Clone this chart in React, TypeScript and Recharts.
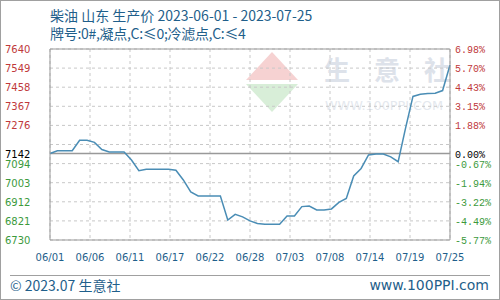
import { LineChart, Line, XAxis, YAxis, CartesianGrid, ReferenceLine } from 'recharts'

// daily ex-factory price, 06/01 .. 07/25
const prices = [
  7142, 7155, 7155, 7155, 7205, 7205, 7195, 7161, 7149, 7149,
  7149, 7111, 7060, 7067, 7067, 7067, 7067, 7062, 7016, 6959,
  6940, 6940, 6940, 6940, 6825, 6852, 6840, 6821, 6809, 6805,
  6805, 6805, 6844, 6844, 6889, 6892, 6873, 6873, 6878, 6909,
  6928, 7035, 7071, 7135, 7140, 7140, 7126, 7103, 7263, 7414,
  7424, 7428, 7429, 7442, 7564,
]

const xLabels = ['06/01', '06/06', '06/11', '06/17', '06/22', '06/28', '07/03', '07/08', '07/14', '07/19', '07/25']

const basePrice = 7142
const yTicks = [7640, 7549, 7458, 7367, 7276, 7142, 7094, 7003, 6912, 6821, 6730]
const leftLabels = ['7640', '7549', '7458', '7367', '7276', '7142', '7094', '7003', '6912', '6821', '6730']
const rightLabels = ['6.98%', '5.70%', '4.43%', '3.15%', '1.88%', '0.00%', '-0.67%', '-1.94%', '-3.22%', '-4.49%', '-5.77%']
const gridValues = [7640, 7549, 7458, 7367, 7276, 7185, 7094, 7003, 6912, 6821, 6730]

const data = prices.map((price, day) => ({ day, price }))
const lastDay = prices.length - 1
const xTicks = xLabels.map((_, i) => (i * lastDay) / (xLabels.length - 1))

const tickColor = (v: number) => (v > basePrice ? '#c0393b' : v < basePrice ? '#3c9a3c' : '#000')

const LeftTick = ({ y, payload }: any) => {
  const i = yTicks.indexOf(payload.value)
  return (
    <text x={5} y={y} dy={4} fill={tickColor(payload.value)} fontSize={10} fontFamily="DejaVu Sans">
      {leftLabels[i]}
    </text>
  )
}

const RightTick = ({ y, payload }: any) => {
  const i = yTicks.indexOf(payload.value)
  return (
    <text x={455} y={y} dy={4} fill={tickColor(payload.value)} fontSize={10} fontFamily="Liberation Mono">
      {rightLabels[i]}
    </text>
  )
}

const blue = '#1f5f8b'

export default function App() {
  return (
    <div style={{ position: 'absolute', left: 0, top: 0, width: 500, height: 300, background: '#fff', overflow: 'hidden' }}>
      {/* titles */}
      <div style={{ position: 'absolute', left: 50, top: 5, fontSize: 14, lineHeight: '20px', color: blue, fontFamily: 'Noto Sans CJK SC', whiteSpace: 'nowrap' }}>
        柴油 山东 生产价 2023-06-01 - 2023-07-25
      </div>
      <div style={{ position: 'absolute', left: 50, top: 23, fontSize: 14, lineHeight: '20px', color: blue, fontFamily: 'Noto Sans CJK SC', whiteSpace: 'nowrap', letterSpacing: -0.3 }}>
        牌号:0#,凝点,C:≤0;冷滤点,C:≤4
      </div>

      {/* watermark */}
      <svg width={500} height={300} style={{ position: 'absolute', left: 0, top: 0 }}>
        <polygon points="272,52 298,80 246,80" fill="#f6d2d2" />
        <polygon points="246,84 298,84 272,112" fill="#d8eed8" />
        <g fontSize={26} fontWeight="bold" fill="#dde2ea" fontFamily="Noto Sans CJK SC">
          <text x={324} y={80}>生</text>
          <text x={374} y={80}>意</text>
          <text x={424} y={80}>社</text>
        </g>
        <text x={325} y={110} fontSize={13} fill="#e4e8ee" fontFamily="DejaVu Sans" textLength={118} lengthAdjust="spacingAndGlyphs">
          WWW.100PPI.COM
        </text>
      </svg>

      <LineChart width={500} height={300} data={data} margin={{ top: 49, right: 0, bottom: 40, left: 5 }} style={{ position: 'absolute', left: 0, top: 0 }}>
        <CartesianGrid stroke="#c8c8c8" strokeDasharray="3 3" horizontalValues={gridValues} />
        <XAxis
          type="number"
          dataKey="day"
          domain={[0, lastDay]}
          ticks={xTicks}
          interval={0}
          height={20}
          tickLine={false}
          axisLine={{ stroke: '#999' }}
          tickFormatter={(v: number) => xLabels[Math.round((v * (xLabels.length - 1)) / lastDay)]}
          tick={{ fill: blue, fontSize: 10, fontFamily: 'DejaVu Sans' }}
          tickMargin={8}
        />
        <YAxis
          domain={[6730, 7640]}
          ticks={yTicks}
          interval={0}
          width={45}
          tickLine={false}
          axisLine={{ stroke: '#999' }}
          tick={<LeftTick />}
        />
        <YAxis
          yAxisId="right"
          orientation="right"
          domain={[6730, 7640]}
          allowDataOverflow
          ticks={yTicks}
          interval={0}
          width={50}
          tickLine={false}
          axisLine={{ stroke: '#999' }}
          tick={<RightTick />}
        />
        <ReferenceLine y={7640} stroke="#999" />
        <ReferenceLine y={basePrice} stroke="#999" strokeWidth={1.5} />
        <Line yAxisId="right" type="linear" dataKey="price" stroke="none" dot={false} activeDot={false} isAnimationActive={false} />
        <Line type="linear" dataKey="price" stroke="#4a8db5" strokeWidth={1.5} dot={false} isAnimationActive={false} />
      </LineChart>

      {/* footer */}
      <div style={{ position: 'absolute', left: 10, top: 275, width: 480, height: 1, background: '#a0a0a0' }} />
      <div style={{ position: 'absolute', left: 10, top: 276, fontSize: 14, lineHeight: '18px', color: blue, fontFamily: 'Noto Sans CJK SC' }}>
        © 2023.07 生意社
      </div>
      <div style={{ position: 'absolute', right: 11, top: 276, fontSize: 14, lineHeight: '18px', color: blue, fontFamily: 'DejaVu Sans' }}>
        www.100PPI.com
      </div>
      <div style={{ position: 'absolute', left: 0, top: 0, width: 500, height: 300, boxSizing: 'border-box', border: '1px solid #a0a0a0', pointerEvents: 'none' }} />
    </div>
  )
}
